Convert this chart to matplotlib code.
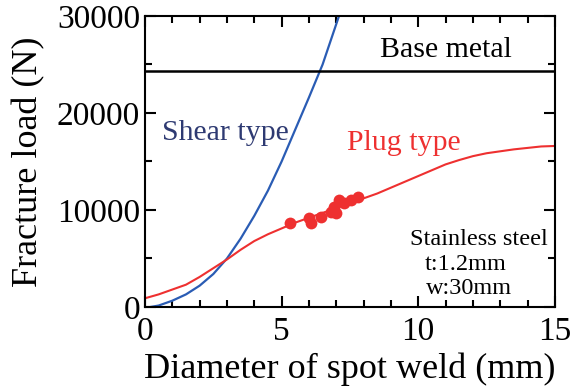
import matplotlib
matplotlib.use('Agg')
import matplotlib.pyplot as plt
from matplotlib.ticker import MultipleLocator

plt.rcParams['font.family'] = ['Liberation Serif', 'DejaVu Serif']

# shear type curve
shear_d = [0.2, 0.5, 1.0, 1.5, 2.0, 2.5, 3.0, 3.5, 4.0, 4.5, 5.0, 5.5, 6.0, 6.5, 7.1]
shear_f = [0, 150, 650, 1300, 2200, 3400, 5000, 7050, 9400, 12000, 15000, 18300, 21600, 25000, 30000]

# plug type curve
plug_d = [0, 0.5, 1, 1.5, 2, 2.5, 3, 3.5, 4, 4.5, 5, 5.5, 6, 6.5, 7, 7.5, 8, 8.5,
          9, 9.5, 10, 10.5, 11, 11.5, 12, 12.5, 13, 13.5, 14, 14.5, 15]
plug_f = [900, 1300, 1800, 2300, 3100, 4000, 4900, 5900, 6800, 7500, 8100, 8700, 9200, 9700,
          10200, 10700, 11200, 11700, 12300, 12900, 13500, 14100, 14700, 15150, 15550, 15850,
          16050, 16250, 16400, 16550, 16600]

# measured points
exp_d = [5.3, 6.0, 6.07, 6.43, 6.8, 6.98, 6.92, 7.1, 7.29, 7.53, 7.78]
exp_f = [8630, 9140, 8630, 9310, 9820, 9660, 10340, 11030, 10690, 11030, 11370]

base_metal = 24300

fig = plt.figure(figsize=(5.72, 3.89), dpi=100)
ax = fig.add_axes([0.2535, 0.2108, 0.7165, 0.7481])

ax.plot(shear_d, shear_f, color='#2a5cb4', lw=1.6)
ax.plot(plug_d, plug_f, color='#ee3030', lw=1.5)
ax.plot(exp_d, exp_f, 'o', color='#ee3030', ms=8.5, mew=0)
ax.axhline(base_metal, color='black', lw=1.8)

ax.text(11.0, 26500, 'Base metal', fontsize=21.5, ha='center', va='center')
ax.text(0.62, 17900, 'Shear type', fontsize=21.5, color='#2e3a72', ha='left', va='center')
ax.text(7.4, 16900, 'Plug type', fontsize=21.5, color='#ee3030', ha='left', va='center')
ax.text(12.23, 7000, 'Stainless steel', fontsize=17.5, ha='center', va='center')
ax.text(11.72, 4400, 't:1.2mm', fontsize=17.5, ha='center', va='center')
ax.text(11.85, 1950, 'w:30mm', fontsize=17.5, ha='center', va='center')

ax.set_xlim(0, 15)
ax.set_ylim(0, 30000)
ax.xaxis.set_major_locator(MultipleLocator(5))
ax.xaxis.set_minor_locator(MultipleLocator(1))
ax.yaxis.set_major_locator(MultipleLocator(10000))
ax.yaxis.set_minor_locator(MultipleLocator(5000))
ax.tick_params(which='both', direction='in', top=True, right=True, width=1.5, labelsize=24)
ax.tick_params(which='major', length=8)
ax.tick_params(which='minor', length=5)
ax.tick_params(axis='x', pad=7)
for s in ax.spines.values():
    s.set_linewidth(1.5)

ax.set_xlabel('Diameter of spot weld (mm)', fontsize=26, labelpad=4)
ax.set_ylabel('Fracture load (N)', fontsize=26, labelpad=8)

fig.savefig('out.png', dpi=100)
